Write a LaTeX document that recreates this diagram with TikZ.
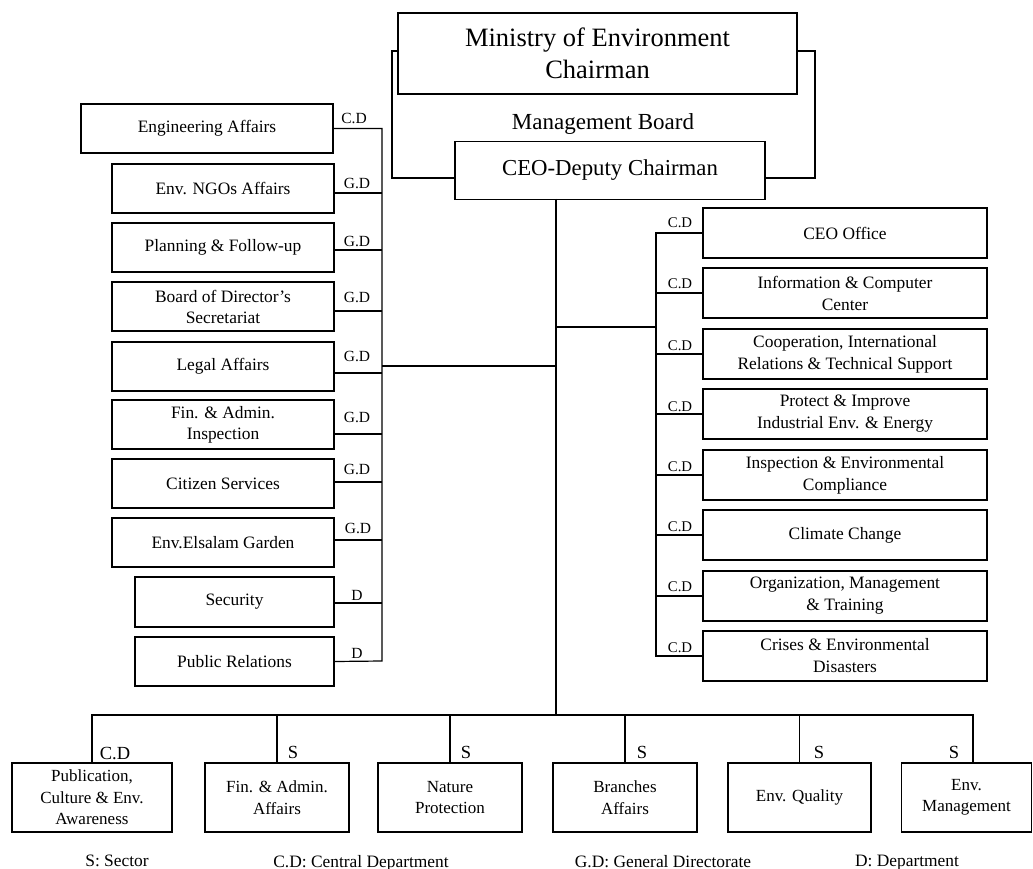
\documentclass[tikz,border=0pt]{standalone}
\usepackage{fontspec}
\setmainfont{Liberation Serif}
\begin{document}
\begin{tikzpicture}[x=1pt,y=-1pt,
  box/.style={draw,line width=1.3pt,align=center,inner sep=1pt,font=\fontsize{17.4}{21}\selectfont},
  lbox/.style={box,minimum width=222pt,minimum height=49pt},
  rbox/.style={box,minimum width=284pt,minimum height=50pt,font=\fontsize{17.4}{22}\selectfont},
  bbox/.style={box,minimum width=144pt,minimum height=69pt,font=\fontsize{17}{21.5}\selectfont},
  conn/.style={line width=1.2pt},
  tag/.style={font=\fontsize{15.5}{16}\selectfont,inner sep=0pt},
  btag/.style={font=\fontsize{18.5}{19}\selectfont,inner sep=0pt},
  legend/.style={font=\fontsize{17.4}{19}\selectfont,inner sep=0pt,anchor=north}]
\useasboundingbox (0,0) rectangle (1033,869);

% top
\node[box,minimum width=399pt,minimum height=81pt,font=\fontsize{26.5}{32}\selectfont] (min) at (597.5,53.5) {Ministry of Environment\\Chairman};
\node[inner sep=0pt,font=\fontsize{23}{26}\selectfont] (mb) at (603,124) {Management Board};
\node[box,minimum width=310pt,minimum height=58pt,font=\fontsize{22.8}{26}\selectfont] (ceo) at (610,170.5) {CEO-Deputy Chairman};
\coordinate (bl) at (392,56);
\coordinate (br) at (815,56);
\draw[conn] ([yshift=2.5pt]min.west) -- ([yshift=2.5pt]min.west -| bl) -- ([yshift=-7.5pt]ceo.west -| bl) -- ([yshift=-7.5pt]ceo.west);
\draw[conn] ([yshift=2.5pt]min.east) -- ([yshift=2.5pt]min.east -| br) -- ([yshift=-7.5pt]ceo.east -| br) -- ([yshift=-7.5pt]ceo.east);

% main trunk
\coordinate (trunkTop) at (556,199);
\coordinate (trunkBot) at (556,715);
\draw[conn] (trunkTop) -- (trunkBot);

% left column
\node[box,minimum width=252pt,minimum height=49pt] (eng) at (207,128.5) {Engineering Affairs};
\node[lbox] (ngo) at (223,188.5) {Env. NGOs Affairs};
\node[lbox] (plan) at (223,247.5) {Planning \& Follow-up};
\node[lbox] (board) at (223,306.5) {Board of Director’s\\Secretariat};
\node[lbox] (legal) at (223,366.5) {Legal Affairs};
\node[lbox] (fin) at (223,424.5) {Fin. \& Admin.\\Inspection};
\node[lbox] (cit) at (223,483.5) {Citizen Services};
\node[lbox] (gard) at (223,542.5) {Env.Elsalam Garden};
\node[box,minimum width=199pt,minimum height=50pt] (sec) at (234.5,602) {Security};
\node[box,minimum width=199pt,minimum height=49pt] (pr) at (234.5,661.5) {Public Relations};

\coordinate (lbusTop) at (382,129);
\coordinate (lbusBot) at (382,661);
\draw[conn] (eng.east) -- (eng.east -| lbusTop) -- (lbusBot) -- (pr.east);
\foreach \n/\s in {ngo/4.5,plan/2.5,board/4.5,legal/6.5,fin/9.5,cit/-1.5,gard/-2.5,sec/1}{
  \draw[conn] ([yshift=-\s pt]\n.east) -- ([yshift=-\s pt]\n.east -| lbusTop);
}
\coordinate (lj) at (382,366);
\draw[conn] (lj) -- (lj -| trunkTop);

\node[tag] (t1) at (354,118) {C.D};
\node[tag] (t2) at (357,183) {G.D};
\node[tag] (t3) at (357,241) {G.D};
\node[tag] (t4) at (357,297) {G.D};
\node[tag] (t5) at (357,356) {G.D};
\node[tag] (t6) at (357,417) {G.D};
\node[tag] (t7) at (357,469) {G.D};
\node[tag] (t8) at (358,528) {G.D};
\node[tag] (t9) at (357,595) {D};
\node[tag] (t10) at (357,653) {D};

% right column
\node[rbox] (co) at (845,233) {CEO Office};
\node[rbox] (info) at (845,293) {Information \& Computer\\Center};
\node[rbox] (coop) at (845,354) {Cooperation, International\\Relations \& Technical Support};
\node[rbox] (prot) at (845,414) {Protect \& Improve\\Industrial Env. \& Energy};
\node[rbox] (insp) at (845,475) {Inspection \& Environmental\\Compliance};
\node[rbox] (clim) at (845,535) {Climate Change};
\node[rbox] (org) at (845,596) {Organization, Management\\\& Training};
\node[rbox] (cris) at (845,656) {Crises \& Environmental\\Disasters};

\coordinate (rbusTop) at (656,233);
\draw[conn] (co.west) -- (rbusTop) -- (rbusTop |- cris.west) -- (cris.west);
\foreach \n in {info,coop,prot,insp,clim,org}{
  \draw[conn] (\n.west) -- (\n.west -| rbusTop);
}
\coordinate (rj) at (556,327);
\draw[conn] (rj) -- (rj -| rbusTop);

\foreach \n/\y in {a/223,b/284,c/346,d/407,e/467,f/527,g/587,h/648}{
  \node[tag,font=\fontsize{14.8}{15}\selectfont] (r\n) at (680,\y) {C.D};
}

% bottom row
\node[box,minimum width=160pt,minimum height=69pt,font=\fontsize{17}{21.5}\selectfont] (pub) at (92,797.5) {Publication,\\Culture \& Env.\\Awareness};
\node[bbox] (faa) at (277,797.5) {Fin. \& Admin.\\Affairs};
\node[bbox] (nat) at (450,797.5) {Nature\\Protection};
\node[bbox] (bra) at (625,797.5) {Branches\\Affairs};
\node[bbox,minimum width=143pt] (eq) at (799.5,797.5) {Env. Quality};
\node[bbox,minimum width=130pt] (em) at (966.5,797.5) {Env.\\Management};

\draw[conn] (pub.north) -- (pub.north |- trunkBot) -- ([xshift=6.5pt]em.north |- trunkBot) -- ([xshift=6.5pt]em.north);
\foreach \n in {faa,nat,bra,eq}{
  \draw[conn] (\n.north) -- (\n.north |- trunkBot);
}

\node[btag] (ba) at (115,753) {C.D};
\node[btag] (bb) at (293,752) {S};
\node[btag] (bc) at (466,752) {S};
\node[btag] (bd) at (642,752) {S};
\node[btag] (be) at (819,752) {S};
\node[btag] (bf) at (954,752) {S};

% legend
\node[legend] (l1) at (117,855) {S: Sector};
\node[legend] (l2) at (361,855) {C.D: Central Department};
\node[legend] (l3) at (663,855) {G.D: General Directorate};
\node[legend] (l4) at (907,855) {D: Department};
\end{tikzpicture}
\end{document}
